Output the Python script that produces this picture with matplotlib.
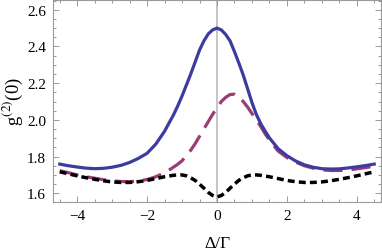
import matplotlib
matplotlib.use("Agg")
import matplotlib.pyplot as plt
from matplotlib.ticker import MultipleLocator

# detuning values (denser around the peak)
delta = [-4.5, -4.25, -4.0, -3.75, -3.5, -3.25, -3.0, -2.75, -2.5, -2.25, -2.0,
         -1.75, -1.5, -1.375, -1.25, -1.125, -1.0, -0.875, -0.75, -0.625, -0.5,
         -0.375, -0.25, -0.125, 0.0, 0.125, 0.25, 0.375, 0.5, 0.625, 0.75, 0.875,
         1.0, 1.125, 1.25, 1.375, 1.5, 1.75, 2.0, 2.25, 2.5, 2.75, 3.0, 3.25,
         3.5, 3.75, 4.0, 4.25, 4.5]

g2_solid = [1.759, 1.750, 1.743, 1.737, 1.734, 1.736, 1.742, 1.752, 1.768, 1.790,
            1.818, 1.868, 1.938, 1.982, 2.025, 2.075, 2.130, 2.190, 2.250, 2.315,
            2.380, 2.430, 2.468, 2.490, 2.500, 2.490, 2.465, 2.430, 2.372, 2.310,
            2.245, 2.170, 2.095, 2.030, 1.980, 1.940, 1.902, 1.843, 1.805, 1.776,
            1.755, 1.742, 1.734, 1.732, 1.733, 1.738, 1.744, 1.751, 1.759]

g2_dashed = [1.723, 1.712, 1.700, 1.690, 1.682, 1.674, 1.668, 1.664, 1.663, 1.667,
             1.675, 1.690, 1.712, 1.726, 1.742, 1.758, 1.777, 1.805, 1.835, 1.870,
             1.910, 1.950, 1.990, 2.030, 2.065, 2.100, 2.123, 2.138, 2.140, 2.125,
             2.100, 2.070, 2.035, 2.000, 1.965, 1.925, 1.890, 1.830, 1.795, 1.770,
             1.750, 1.737, 1.728, 1.724, 1.724, 1.727, 1.733, 1.740, 1.747]

g2_dotted = [1.717, 1.706, 1.695, 1.685, 1.676, 1.668, 1.662, 1.659, 1.659, 1.663,
             1.670, 1.680, 1.690, 1.694, 1.698, 1.700, 1.700, 1.695, 1.684, 1.670,
             1.650, 1.628, 1.605, 1.588, 1.580, 1.588, 1.605, 1.628, 1.650, 1.670,
             1.684, 1.695, 1.700, 1.700, 1.698, 1.694, 1.690, 1.680, 1.670, 1.663,
             1.659, 1.659, 1.662, 1.668, 1.676, 1.685, 1.695, 1.706, 1.717]

plt.rcParams['font.family'] = ['Liberation Serif', 'DejaVu Serif']
plt.rcParams['mathtext.fontset'] = 'stix'

fig = plt.figure(figsize=(3.82, 2.53), dpi=100)
ax = fig.add_axes([0.139, 0.198, 0.858, 0.798])

ax.axvline(0, color='#c0c0c0', lw=1.3, zorder=1)

ax.plot(delta, g2_solid, color='#3c3ca0', lw=2.3, zorder=3)
ax.plot(delta, g2_dashed, color='#9b3d74', lw=2.3, dashes=(6, 2.8), zorder=2)
ax.plot(delta, g2_dotted, color='black', lw=2.5, dashes=(2.0, 1.2), zorder=4)

ax.set_xlim(-4.69, 4.69)
ax.set_ylim(1.553, 2.653)

ax.xaxis.set_major_locator(MultipleLocator(2))
ax.xaxis.set_minor_locator(MultipleLocator(0.5))
ax.yaxis.set_major_locator(MultipleLocator(0.2))
ax.yaxis.set_minor_locator(MultipleLocator(0.05))
ax.yaxis.set_major_formatter(plt.FuncFormatter(lambda v, p: '%.1f' % v))

for s in ax.spines.values():
    s.set_color('#999999')
    s.set_linewidth(0.8)

ax.tick_params(which='both', direction='in', top=True, right=True,
               color='#999999', width=0.7, labelsize=11)
ax.tick_params(which='major', length=4, pad=5)
ax.tick_params(which='minor', length=2)

ax.set_xlabel('Δ/Γ', fontsize=12.5)
ax.set_ylabel(r'g$^{(2)}$(0)', fontsize=13.5)
ax.xaxis.set_label_coords(0.5, -0.165)
ax.yaxis.set_label_coords(-0.085, 0.5)

fig.savefig('out.png', dpi=100)
